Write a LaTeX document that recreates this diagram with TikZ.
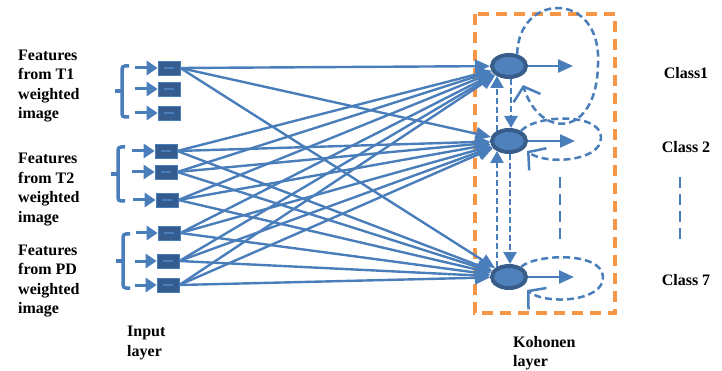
\documentclass[tikz,border=0pt]{standalone}
\usepackage{fontspec}
\setmainfont{Liberation Serif}
\usetikzlibrary{arrows.meta,calc,shapes.geometric}
\definecolor{lblue}{RGB}{74,126,187}
\definecolor{nfill}{RGB}{79,129,189}
\definecolor{ndark}{RGB}{56,93,138}
\definecolor{bdark}{RGB}{52,92,142}
\definecolor{orng}{RGB}{247,150,70}
\begin{document}
\begin{tikzpicture}[x=1pt,y=-1pt,
  lbl/.style={font=\bfseries\fontsize{16}{19.5}\selectfont, align=left, inner sep=0pt, anchor=west},
  inbox/.style={rectangle, draw=lblue, line width=0.6pt, fill=bdark, minimum width=22pt, minimum height=14pt, inner sep=0pt},
  knode/.style={ellipse, draw=ndark, line width=4pt, fill=nfill, minimum width=34pt, minimum height=22pt, inner sep=0pt},
  link/.style={draw=lblue, line width=2.4pt, -{Triangle[length=15pt,width=13pt]}},
  feed/.style={draw=lblue, line width=3pt, -{Triangle[length=11pt,width=14pt]}},
  brace/.style={draw=lblue, line width=3.5pt, rounded corners=3pt},
  darrow/.style={draw=lblue, line width=2.5pt, dash pattern=on 6pt off 3pt, -{Triangle[length=12pt,width=13pt]}},
  dloop/.style={draw=lblue, line width=2.5pt, dash pattern=on 7pt off 4pt, -{Straight Barb[length=12pt,width=28pt]}},
  vdash/.style={draw=lblue, line width=2.5pt, dash pattern=on 11pt off 6pt}
]
\useasboundingbox (0,0) rectangle (722,371);

% Kohonen frame
\draw[orng, line width=4.5pt, dash pattern=on 11pt off 7pt] (475,14) rectangle (615,313);

% texts
\node[lbl] (t1) at (18,86) {Features\\from T1\\weighted\\image};
\node[lbl] (t2) at (18,189.5) {Features\\from T2\\weighted\\image};
\node[lbl] (t3) at (18,281) {Features\\from PD\\weighted\\image};
\node[lbl] (il) at (127,343) {Input\\layer};
\node[lbl] (kl) at (513,353) {Kohonen\\layer};
\node[lbl, anchor=center] (c1) at (686,73) {Class1};
\node[lbl, anchor=center] (c2) at (686,147) {Class 2};
\node[lbl, anchor=center] (c7) at (686,280) {Class 7};

% input boxes
\node[inbox] (b1) at (169,68) {};
\node[inbox] (b2) at (169,89) {};
\node[inbox] (b3) at (169,113) {};
\node[inbox] (b4) at (166,151) {};
\node[inbox] (b5) at (166,172) {};
\node[inbox] (b6) at (167,200) {};
\node[inbox] (b7) at (169,233) {};
\node[inbox] (b8) at (168,261) {};
\node[inbox] (b9) at (168,285) {};
\foreach \i in {1,...,9}
  \draw[lblue, line width=2pt] ($(b\i.center)+(-5,0)$) -- ($(b\i.center)+(5,0)$);

% braces
\draw[brace] (129,66) -- (122,66) -- (122,117) -- (129,117);
\draw[brace] (122,91) -- (115,91);
\draw[brace] (125,147) -- (118,147) -- (118,201) -- (125,201);
\draw[brace] (118,174) -- (111,174);
\draw[brace] (130,234) -- (123,234) -- (123,288) -- (130,288);
\draw[brace] (123,261) -- (116,261);

% feed arrows
\coordinate (f1) at (135,68);
\coordinate (f2) at (135,89);
\coordinate (f3) at (135,113);
\coordinate (f4) at (132,151);
\coordinate (f5) at (132,172);
\coordinate (f6) at (133,200);
\coordinate (f7) at (136,233);
\coordinate (f8) at (135,261);
\coordinate (f9) at (135,285);
\foreach \i in {1,...,9}
  \draw[feed] (f\i) -- (b\i.west);

% Kohonen nodes
\node[knode] (k1) at (509,66) {};
\node[knode] (k2) at (509,141) {};
\node[knode] (k3) at (509,277) {};

% links
\foreach \i in {1,4,5,6,7,8,9}
  \foreach \k in {1,2,3}
    \draw[link] (b\i.east) -- (k\k);

% outputs
\coordinate (o1) at (573,66);
\coordinate (o2) at (575,141);
\coordinate (o3) at (574,277);
\foreach \k in {1,2,3}
  \draw[link] (k\k.east) -- (o\k);

% lateral dashed arrows
\draw[darrow] ($(k1.center)+(2,13)$) -- ($(k2.center)+(2,-13)$);
\draw[darrow] ($(k2.center)+(-12,-10)$) -- ($(k1.center)+(-12,10)$);
\draw[darrow] ($(k2.center)+(1,13)$) -- ($(k3.center)+(1,-13)$);
\draw[darrow] ($(k3.center)+(-12,-10)$) -- ($(k2.center)+(-12,10)$);

% self loops
\draw[dloop] (k1.55) .. controls (518,-8) and (602,-10) .. (598,64) .. controls (597,138) and (540,140) .. (523,85);
\draw[dloop] (k2.40) .. controls (535,115) and (600,112) .. (601,137) .. controls (602,162) and (545,165) .. (527,151);
\draw[dloop] (k3.40) .. controls (535,254) and (602,251) .. (603,277) .. controls (604,302) and (545,305) .. (527,290);

% ellipsis dashes
\draw[vdash] (560,177) -- (560,243);
\draw[vdash] (680,177) -- (680,243);
\end{tikzpicture}
\end{document}
